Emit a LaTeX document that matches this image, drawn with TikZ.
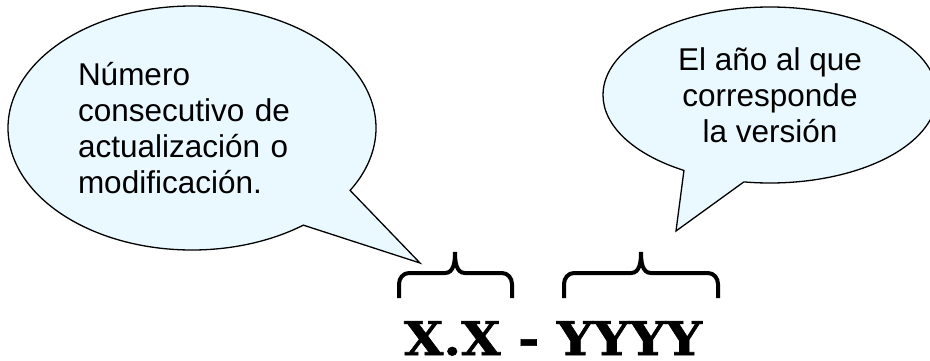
\documentclass[tikz,border=0pt]{standalone}
\usepackage{fontspec}
\setmainfont{Liberation Sans}
\newfontfamily\slabfont[BoldFeatures={FakeBold=1.2}]{DejaVu Serif}
\usetikzlibrary{shapes.callouts}
\definecolor{bubblefill}{RGB}{234,248,255}

\begin{document}
\begin{tikzpicture}
  [x=1pt,y=-1pt,
   bubble/.style={ellipse callout,draw=black,line width=1.3pt,fill=bubblefill,
     callout pointer arc=22,font=\fontsize{31.5}{36}\selectfont},
   bracket/.style={line width=4pt}]
  \path[use as bounding box,clip] (0,0) rectangle (930,360);
  \coordinate (tipL) at (420,263);
  \coordinate (tipR) at (676,231);
  \node[bubble,minimum width=368pt,minimum height=244pt,text width=228pt,align=left,
    callout absolute pointer=(tipL)] (numero) at (192,128)
    {Número\\consecutivo de\\actualización o\\modificación.};
  \node[bubble,minimum width=334pt,minimum height=176pt,align=center,
    callout absolute pointer=(tipR)] (anio) at (770,95)
    {El año al que\\corresponde\\la versión};
  \node[font=\slabfont\bfseries\fontsize{46.6}{50}\selectfont,anchor=base,inner sep=0pt]
    (codigo) at (553,355) {\scalebox{1.09}[1]{X.X - YYYY}};
  % braces over X.X and YYYY
  \foreach \xa/\xm/\xb in {399/455/512,564/641/718}
    \draw[bracket] (\xa,298) -- (\xa,284) to[out=90,in=180] (\xa+10,273)
      -- (\xm-10,273) to[out=0,in=-90] (\xm,252) to[out=-90,in=180] (\xm+10,273)
      -- (\xb-10,273) to[out=0,in=90] (\xb,284) -- (\xb,298);
\end{tikzpicture}
\end{document}
